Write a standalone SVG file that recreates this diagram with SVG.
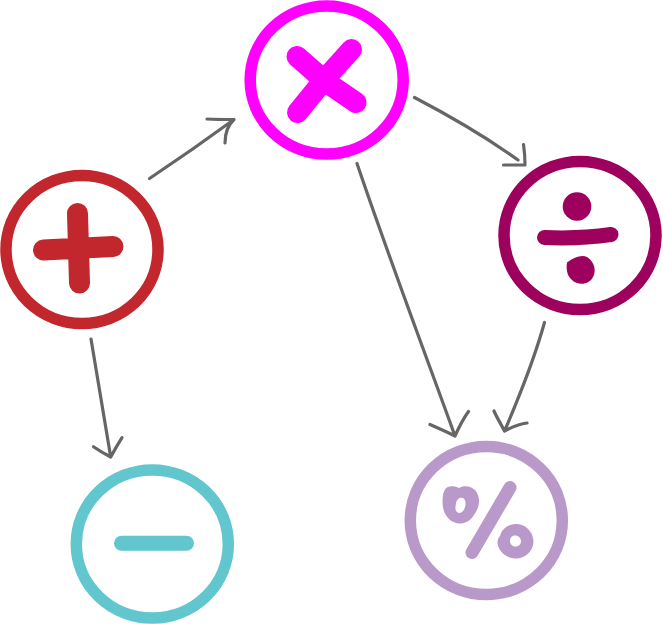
<svg xmlns="http://www.w3.org/2000/svg" width="663" height="624" viewBox="0 0 663 624">
<style>
.ring{fill:none;stroke-width:11.5}
.mark{fill:none;stroke-linecap:round;stroke-linejoin:round}
.fillmark{stroke:none}
.conn{fill:none;stroke:#666;stroke-width:3.2;stroke-linecap:round;stroke-linejoin:round}
#plus{color:#C1272D}
#times{color:#FF00FF}
#divide{color:#9E005D}
#percent{color:#B999C9}
#minus{color:#62C6CF}
#plus *,#times *,#divide *,#percent *,#minus *{stroke:currentColor}
#divide .fillmark,#percent .fillmark{fill:currentColor;stroke:none}
</style>
<rect width="663" height="624" fill="#fff"/>
<g id="connectors">
<path class="conn" d="M149.500 178.500C178 159.500 206 140 234 119.500M207 119C216 119.500 225 119.500 234 119.500C227 126 225 134 225 143"/>
<path class="conn" d="M414.500 97.500C450 116 486 137 518 160M503.500 165C511 165 518 165 525 165C525 158 524.500 151 523.500 144.500"/>
<path class="conn" d="M357 163.500C388 255 422 345 455 436M430 424.500C438 428 447 432 455 436C459 427 463 419 468.500 411.500"/>
<path class="conn" d="M544.500 322.500C534 360 520 395 504.500 431M494 411C497 418 501 424 504.500 431C512 427 519 424 527 423"/>
<path class="conn" d="M91 339L110.700 457M93.500 446.700C99 450.500 105 454 110.700 457C114 451 118 444 122 437.700"/>
</g>
<g id="plus">
<ellipse class="ring" cx="82" cy="249.500" rx="76" ry="74"/>
<path class="mark" stroke-width="21" d="M77.500 213.500L79.500 283M43.500 250L113 246.500"/>
</g>
<g id="times">
<ellipse class="ring" cx="326.700" cy="80" rx="76.500" ry="74"/>
<path class="mark" stroke-width="21" d="M297 56.500L326 82L356 102.500M351.500 49.500L324 80L297.500 112.500"/>
</g>
<g id="divide">
<ellipse class="ring" cx="580" cy="235.500" rx="76" ry="74"/>
<path class="mark" stroke-width="15" d="M544.500 237.500C567 238.500 590 237.500 611 234.500"/>
<circle class="fillmark" cx="577" cy="206.500" r="14.300"/>
<path class="fillmark" d="M567 262.500C574 257 582 254.500 587 257C595 262 596 271 593.500 276C590 285 578 286 572 280C567 276 566 269 567 262.500Z"/>
</g>
<g id="percent">
<ellipse class="ring" cx="486.300" cy="520.500" rx="76" ry="74"/>
<path class="mark" stroke-width="13" d="M510 487.500L472 552.500"/>
<path class="fillmark" fill-rule="evenodd" d="M450 486.500C455 485.500 457 487 459 488C464 485 471 486 475 490C481 497 480 507 474 515C468 525 456 526 449 519C442 512 442 503 443 495C444 490 446 487 450 486.500ZM460 498C456 499 456 504 455.500 507C455 511 457 513 460 513C464 512 466 506 465.500 502C465 499 463 497 460 498Z"/>
<path class="fillmark" fill-rule="evenodd" d="M515 524C525 523.500 533 531 533.500 541C533.500 552 524 559 515 558.500C505 558 498 550 497.500 543C497.500 540 498 538 500 536C502 529 508 524.500 515 524ZM515 535.500C511.500 535.500 510 538 510 541C510 544 512.500 546.500 515.500 546.500C519 546.500 521 544 521 541C521 538 518.500 535.500 515 535.500Z"/>
</g>
<g id="minus">
<ellipse class="ring" cx="152.300" cy="544" rx="76" ry="74"/>
<path class="mark" stroke-width="15" d="M121.500 543.300L186.500 543.300"/>
</g>
</svg>
